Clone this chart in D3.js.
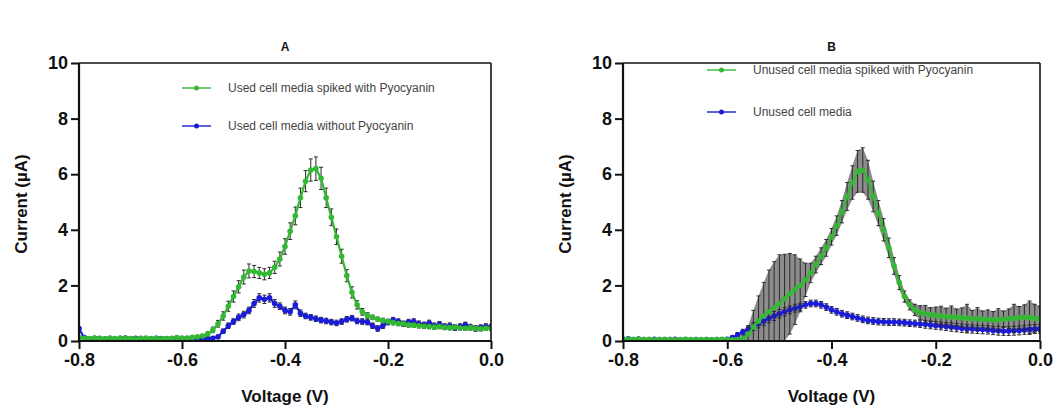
<!DOCTYPE html>
<html>
<head>
<meta charset="utf-8">
<script src="https://cdn.jsdelivr.net/npm/d3@7"></script>
<style>
  body { margin: 0; background: #fff; }
  svg { font-family: "Liberation Sans", Arial, sans-serif; }
</style>
</head>
<body>
<svg id="chart" width="1059" height="412"></svg>
<script>
// potential sweep (V)
const voltage = [
  -0.80, -0.79, -0.78, -0.77, -0.76, -0.75, -0.74, -0.73, -0.72, -0.71,
  -0.70, -0.69, -0.68, -0.67, -0.66, -0.65, -0.64, -0.63, -0.62, -0.61,
  -0.60, -0.59, -0.58, -0.57, -0.56, -0.55, -0.54, -0.53, -0.52, -0.51,
  -0.50, -0.49, -0.48, -0.47, -0.46, -0.45, -0.44, -0.43, -0.42, -0.41,
  -0.40, -0.39, -0.38, -0.37, -0.36, -0.35, -0.34, -0.33, -0.32, -0.31,
  -0.30, -0.29, -0.28, -0.27, -0.26, -0.25, -0.24, -0.23, -0.22, -0.21,
  -0.20, -0.19, -0.18, -0.17, -0.16, -0.15, -0.14, -0.13, -0.12, -0.11,
  -0.10, -0.09, -0.08, -0.07, -0.06, -0.05, -0.04, -0.03, -0.02, -0.01, 0.00
];

// panel A
const usedSpiked = [
  0.12, 0.10, 0.09, 0.11, 0.10, 0.08, 0.10, 0.09, 0.11, 0.10,
  0.09, 0.08, 0.10, 0.11, 0.09, 0.10, 0.08, 0.09, 0.10, 0.12,
  0.11, 0.10, 0.13, 0.15, 0.18, 0.25, 0.40, 0.62, 0.90, 1.25,
  1.60, 1.95, 2.30, 2.52, 2.50, 2.45, 2.40, 2.45, 2.65, 2.95,
  3.40, 3.95, 4.50, 5.15, 5.75, 6.15, 6.20, 5.85, 5.15, 4.45,
  3.75, 3.05, 2.35, 1.75, 1.30, 1.05, 0.92, 0.85, 0.78, 0.74,
  0.70, 0.66, 0.63, 0.62, 0.58, 0.57, 0.55, 0.53, 0.52, 0.50,
  0.52, 0.49, 0.48, 0.50, 0.47, 0.46, 0.48, 0.45, 0.44, 0.46, 0.45
];
const usedSpikedErr = [
  0.05, 0.05, 0.05, 0.05, 0.05, 0.05, 0.05, 0.05, 0.05, 0.05,
  0.05, 0.05, 0.05, 0.05, 0.05, 0.05, 0.05, 0.05, 0.05, 0.05,
  0.05, 0.05, 0.05, 0.05, 0.06, 0.08, 0.10, 0.12, 0.15, 0.18,
  0.20, 0.22, 0.25, 0.25, 0.22, 0.20, 0.20, 0.20, 0.22, 0.25,
  0.28, 0.30, 0.32, 0.35, 0.38, 0.40, 0.42, 0.40, 0.35, 0.30,
  0.28, 0.25, 0.22, 0.20, 0.15, 0.12, 0.10, 0.08, 0.08, 0.08,
  0.08, 0.08, 0.08, 0.08, 0.08, 0.08, 0.08, 0.08, 0.08, 0.08,
  0.08, 0.08, 0.08, 0.08, 0.08, 0.08, 0.08, 0.08, 0.08, 0.08, 0.08
];
const usedPlain = [
  0.45, 0.12, 0.08, 0.10, 0.09, 0.07, 0.10, 0.08, 0.09, 0.11,
  0.08, 0.10, 0.09, 0.07, 0.08, 0.10, 0.09, 0.08, 0.07, 0.09,
  0.08, 0.10, 0.08, 0.07, 0.09, 0.08, 0.10, 0.15, 0.35, 0.55,
  0.70, 0.85, 0.95, 1.10, 1.35, 1.55, 1.50, 1.55, 1.35, 1.25,
  1.10, 1.05, 1.30, 1.00, 0.90, 0.85, 0.80, 0.75, 0.72, 0.68,
  0.65, 0.70, 0.78, 0.82, 0.72, 0.70, 0.68, 0.55, 0.45, 0.55,
  0.68, 0.75, 0.70, 0.62, 0.68, 0.70, 0.62, 0.58, 0.65, 0.55,
  0.60, 0.52, 0.55, 0.48, 0.52, 0.58, 0.50, 0.45, 0.48, 0.52, 0.50
];
const usedPlainErr = [
  0.06, 0.05, 0.05, 0.05, 0.05, 0.05, 0.05, 0.05, 0.05, 0.05,
  0.05, 0.05, 0.05, 0.05, 0.05, 0.05, 0.05, 0.05, 0.05, 0.05,
  0.05, 0.05, 0.05, 0.05, 0.05, 0.05, 0.05, 0.06, 0.08, 0.10,
  0.10, 0.12, 0.12, 0.12, 0.14, 0.15, 0.15, 0.15, 0.14, 0.12,
  0.12, 0.12, 0.14, 0.12, 0.10, 0.10, 0.10, 0.10, 0.10, 0.10,
  0.10, 0.10, 0.10, 0.10, 0.10, 0.10, 0.10, 0.10, 0.10, 0.10,
  0.10, 0.10, 0.10, 0.10, 0.10, 0.10, 0.10, 0.10, 0.10, 0.10,
  0.10, 0.10, 0.10, 0.10, 0.10, 0.10, 0.10, 0.10, 0.10, 0.10, 0.10
];

// panel B
const unusedSpiked = [
  0.08, 0.06, 0.05, 0.07, 0.05, 0.06, 0.04, 0.05, 0.06, 0.05,
  0.04, 0.05, 0.06, 0.05, 0.04, 0.05, 0.05, 0.04, 0.05, 0.06,
  0.05, 0.04, 0.05, 0.08, 0.25, 0.50, 0.72, 0.90, 1.05, 1.20,
  1.35, 1.52, 1.70, 1.85, 2.00, 2.20, 2.45, 2.75, 3.05, 3.35,
  3.75, 4.15, 4.65, 5.20, 5.70, 6.10, 6.15, 5.80, 5.20, 4.60,
  4.00, 3.35, 2.70, 2.10, 1.60, 1.30, 1.12, 1.02, 0.98, 0.95,
  0.92, 0.90, 0.88, 0.86, 0.85, 0.84, 0.82, 0.80, 0.80, 0.78,
  0.77, 0.76, 0.76, 0.78, 0.80, 0.82, 0.84, 0.85, 0.84, 0.82, 0.80
];
const unusedSpikedErr = [
  0.04, 0.04, 0.04, 0.04, 0.04, 0.04, 0.04, 0.04, 0.04, 0.04,
  0.04, 0.04, 0.04, 0.04, 0.04, 0.04, 0.04, 0.04, 0.04, 0.04,
  0.04, 0.04, 0.04, 0.10, 0.30, 0.60, 0.90, 1.20, 1.50, 1.65,
  1.75, 1.60, 1.45, 1.25, 0.95, 0.60, 0.35, 0.30, 0.30, 0.30,
  0.30, 0.35, 0.40, 0.50, 0.60, 0.75, 0.80, 0.70, 0.55, 0.45,
  0.40, 0.35, 0.30, 0.25, 0.20, 0.18, 0.20, 0.25, 0.30, 0.25,
  0.30, 0.35, 0.30, 0.40, 0.30, 0.35, 0.50, 0.30, 0.40, 0.30,
  0.35, 0.30, 0.40, 0.30, 0.35, 0.50, 0.40, 0.45, 0.60, 0.50, 0.45
];
const unusedPlain = [
  0.06, 0.08, 0.05, 0.07, 0.05, 0.04, 0.06, 0.05, 0.04, 0.05,
  0.06, 0.04, 0.05, 0.04, 0.05, 0.04, 0.05, 0.04, 0.05, 0.04,
  0.06, 0.12, 0.22, 0.32, 0.42, 0.52, 0.62, 0.72, 0.82, 0.90,
  0.98, 1.05, 1.12, 1.18, 1.23, 1.30, 1.35, 1.35, 1.30, 1.22,
  1.12, 1.05, 0.98, 0.93, 0.88, 0.83, 0.78, 0.74, 0.72, 0.70,
  0.69, 0.68, 0.68, 0.67, 0.66, 0.64, 0.63, 0.61, 0.60, 0.58,
  0.56, 0.54, 0.52, 0.50, 0.48, 0.46, 0.44, 0.43, 0.42, 0.41,
  0.40, 0.38, 0.37, 0.36, 0.36, 0.37, 0.38, 0.40, 0.42, 0.43, 0.44
];
const unusedPlainErr = [
  0.04, 0.04, 0.04, 0.04, 0.04, 0.04, 0.04, 0.04, 0.04, 0.04,
  0.04, 0.04, 0.04, 0.04, 0.04, 0.04, 0.04, 0.04, 0.04, 0.04,
  0.04, 0.06, 0.08, 0.10, 0.12, 0.14, 0.15, 0.16, 0.16, 0.16,
  0.15, 0.15, 0.14, 0.14, 0.13, 0.12, 0.12, 0.12, 0.12, 0.12,
  0.12, 0.12, 0.12, 0.12, 0.12, 0.12, 0.12, 0.12, 0.12, 0.12,
  0.12, 0.12, 0.12, 0.12, 0.12, 0.12, 0.12, 0.12, 0.14, 0.14,
  0.14, 0.14, 0.14, 0.15, 0.15, 0.15, 0.15, 0.15, 0.15, 0.15,
  0.15, 0.15, 0.16, 0.16, 0.16, 0.16, 0.16, 0.16, 0.16, 0.16, 0.16
];

const xTicks = [-0.8, -0.6, -0.4, -0.2, 0.0];
const yTicks = [0, 2, 4, 6, 8, 10];

const green = '#33b833';
const blue = '#1c1cd6';

const panels = [
  {
    title: 'A', left: 79, right: 491, band: false,
    legendX: 182, legendY: [88, 126],
    series: [
      { name: 'Used cell media without Pyocyanin', values: usedPlain, err: usedPlainErr, color: blue },
      { name: 'Used cell media spiked with Pyocyanin', values: usedSpiked, err: usedSpikedErr, color: green }
    ]
  },
  {
    title: 'B', left: 623, right: 1040, band: true,
    legendX: 707, legendY: [70, 112],
    series: [
      { name: 'Unused cell media', values: unusedPlain, err: unusedPlainErr, color: blue },
      { name: 'Unused cell media spiked with Pyocyanin', values: unusedSpiked, err: unusedSpikedErr, color: green }
    ]
  }
];

const plotTop = 63, plotBottom = 341;
const svg = d3.select('#chart');

panels.forEach((p, pi) => {
  const x = d3.scaleLinear().domain([-0.8, 0]).range([p.left, p.right]);
  const y = d3.scaleLinear().domain([0, 10]).range([plotBottom, plotTop]);
  const g = svg.append('g');

  g.append('clipPath').attr('id', `clip${pi}`)
    .append('rect')
    .attr('x', p.left).attr('y', plotTop)
    .attr('width', p.right - p.left).attr('height', plotBottom - plotTop);

  const plot = g.append('g').attr('clip-path', `url(#clip${pi})`);

  // grey band of the spread where the error bars pile up
  if (p.band) {
    const s = p.series[1];
    const band = d3.area()
      .x((d, i) => x(voltage[i]))
      .y0((d, i) => y(Math.max(0, s.values[i] - s.err[i])))
      .y1((d, i) => y(s.values[i] + s.err[i]));
    plot.append('path')
      .datum(s.values)
      .attr('d', band)
      .attr('fill', '#8c8c8c');
  }

  p.series.forEach(s => {
    const pts = s.values.map((v, i) => ({ x: voltage[i], y: v, e: s.err[i] }));

    // error bars
    const eb = plot.append('g').attr('stroke', '#2a2a2a').attr('stroke-width', 1);
    eb.selectAll('line.bar').data(pts).enter().append('line')
      .attr('x1', d => x(d.x)).attr('x2', d => x(d.x))
      .attr('y1', d => y(d.y - d.e)).attr('y2', d => y(d.y + d.e));
    eb.selectAll('line.capT').data(pts).enter().append('line')
      .attr('x1', d => x(d.x) - 2).attr('x2', d => x(d.x) + 2)
      .attr('y1', d => y(d.y + d.e)).attr('y2', d => y(d.y + d.e));
    eb.selectAll('line.capB').data(pts).enter().append('line')
      .attr('x1', d => x(d.x) - 2).attr('x2', d => x(d.x) + 2)
      .attr('y1', d => y(d.y - d.e)).attr('y2', d => y(d.y - d.e));

    plot.append('path')
      .datum(pts)
      .attr('d', d3.line().x(d => x(d.x)).y(d => y(d.y)))
      .attr('fill', 'none')
      .attr('stroke', s.color)
      .attr('stroke-width', 2.2);

    plot.append('g').selectAll('circle').data(pts).enter().append('circle')
      .attr('cx', d => x(d.x))
      .attr('cy', d => y(d.y))
      .attr('r', 2.8)
      .attr('fill', s.color);
  });

  // frame
  g.append('line').attr('x1', p.left).attr('x2', p.right).attr('y1', plotTop).attr('y2', plotTop)
    .attr('stroke', '#111').attr('stroke-width', 1.6);
  g.append('line').attr('x1', p.right).attr('x2', p.right).attr('y1', plotTop).attr('y2', plotBottom)
    .attr('stroke', '#111').attr('stroke-width', 1.6);

  const xAxis = d3.axisBottom(x).tickValues(xTicks).tickSize(8).tickPadding(4)
    .tickFormat(d => d.toFixed(1));
  const yAxis = d3.axisLeft(y).tickValues(yTicks).tickSize(8).tickPadding(3);

  const gx = g.append('g').attr('transform', `translate(0,${plotBottom})`).call(xAxis);
  const gy = g.append('g').attr('transform', `translate(${p.left},0)`).call(yAxis);
  [gx, gy].forEach(a => {
    a.attr('font-family', null).attr('font-size', 18).attr('font-weight', 'bold');
    a.select('.domain').attr('stroke', '#111').attr('stroke-width', 2.2);
    a.selectAll('.tick line').attr('stroke', '#111').attr('stroke-width', 2);
    a.selectAll('.tick text').attr('fill', '#111');
  });
  gx.select('.domain').attr('d', `M${p.left},0H${p.right}`);
  gy.select('.domain').attr('d', `M0,${plotBottom}V${plotTop}`);

  // titles
  const cx = (p.left + p.right) / 2;
  g.append('text').attr('x', cx).attr('y', 51).attr('text-anchor', 'middle')
    .attr('font-size', 12).attr('font-weight', 'bold').attr('fill', '#111').text(p.title);
  g.append('text').attr('x', cx).attr('y', 402).attr('text-anchor', 'middle')
    .attr('font-size', 17).attr('font-weight', 'bold').attr('fill', '#111').text('Voltage (V)');
  g.append('text')
    .attr('transform', `translate(${p.left - 52},${(plotTop + plotBottom) / 2 + 2}) rotate(-90)`)
    .attr('text-anchor', 'middle')
    .attr('font-size', 17).attr('font-weight', 'bold').attr('fill', '#111').text('Current (\u00b5A)');

  // legend: spiked first, plain below
  [p.series[1], p.series[0]].forEach((s, i) => {
    const ly = p.legendY[i];
    const lg = g.append('g');
    lg.append('line').attr('x1', p.legendX).attr('x2', p.legendX + 29)
      .attr('y1', ly).attr('y2', ly).attr('stroke', s.color).attr('stroke-width', 1.4);
    lg.append('circle').attr('cx', p.legendX + 14.5).attr('cy', ly).attr('r', 2.5).attr('fill', s.color);
    lg.append('text').attr('x', p.legendX + 46).attr('y', ly + 4)
      .attr('font-size', 12).attr('fill', '#444').text(s.name);
  });
});
</script>
</body>
</html>
